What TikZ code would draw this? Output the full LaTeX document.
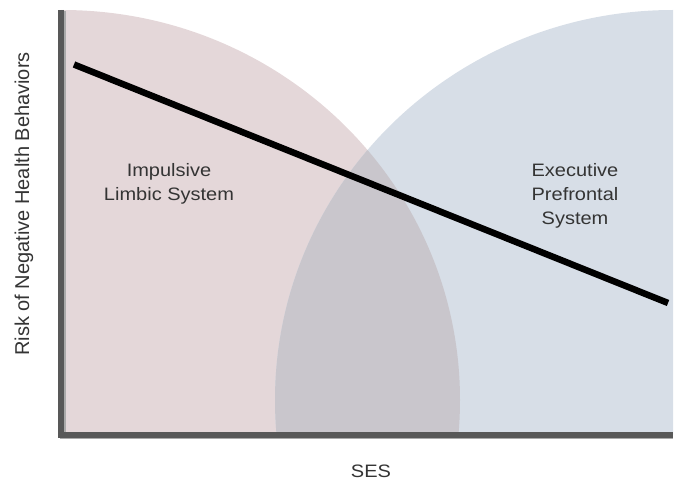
\documentclass[tikz,border=0pt]{standalone}
\usepackage{fontspec}
\setmainfont{Liberation Sans}
\definecolor{pinkc}{RGB}{228,215,217}
\definecolor{bluec}{RGB}{215,222,231}
\definecolor{overlapc}{RGB}{201,198,204}
\definecolor{axisc}{RGB}{88,88,88}
\definecolor{shadowc}{RGB}{170,170,170}
\definecolor{textc}{RGB}{52,52,52}
\tikzset{
  lbl/.style={inner sep=0pt, text=textc, font=\fontsize{20}{24}\selectfont, anchor=base},
  axisline/.style={draw=axisc, line width=6pt, line cap=butt, line join=miter},
  shadowline/.style={draw=shadowc, line width=6pt, line cap=butt, line join=miter},
  trend/.style={draw=black, line width=6.5pt, line cap=butt}
}
\newcommand{\sq}[1]{\scalebox{1}[0.9]{#1}}
\begin{document}
\begin{tikzpicture}[x=1pt,y=-1pt]
\useasboundingbox (0,0) rectangle (678,481);
% regions
\begin{scope}
  \clip (61,10) rectangle (673,434);
  \fill[pinkc] (62,400) ellipse [x radius=398, y radius=390];
  \fill[bluec] (673,400) ellipse [x radius=398, y radius=390];
  \begin{scope}
    \clip (62,400) ellipse [x radius=398, y radius=390];
    \fill[overlapc] (673,400) ellipse [x radius=398, y radius=390];
  \end{scope}
\end{scope}
% axes
\coordinate (top) at (61,10);
\coordinate (corner) at (61,434.5);
\coordinate (right) at (673,434.5);
\coordinate (stop) at (62.5,11);
\coordinate (scorner) at (62.5,436);
\coordinate (sright) at (673,436);
\draw[shadowline] (stop) -- (scorner) -- (sright);
\draw[axisline] (top) -- (corner) -- (right);
% trend line
\coordinate (a) at (74,64.5);
\coordinate (b) at (668,303);
\draw[trend] (a) -- (b);
% labels
\node[lbl] (imp) at (169,177) {\sq{Impulsive}};
\node[lbl] (limb) at (169,201) {\sq{Limbic System}};
\node[lbl] (exe) at (575,177) {\sq{Executive}};
\node[lbl] (pre) at (575,201) {\sq{Prefrontal}};
\node[lbl] (sys) at (575,224.5) {\sq{System}};
\node[lbl] (ses) at (371,477) {\sq{SES}};
\node[lbl, anchor=center, rotate=90] (risk) at (24,204) {Risk of Negative Health Behaviors};
\end{tikzpicture}
\end{document}
